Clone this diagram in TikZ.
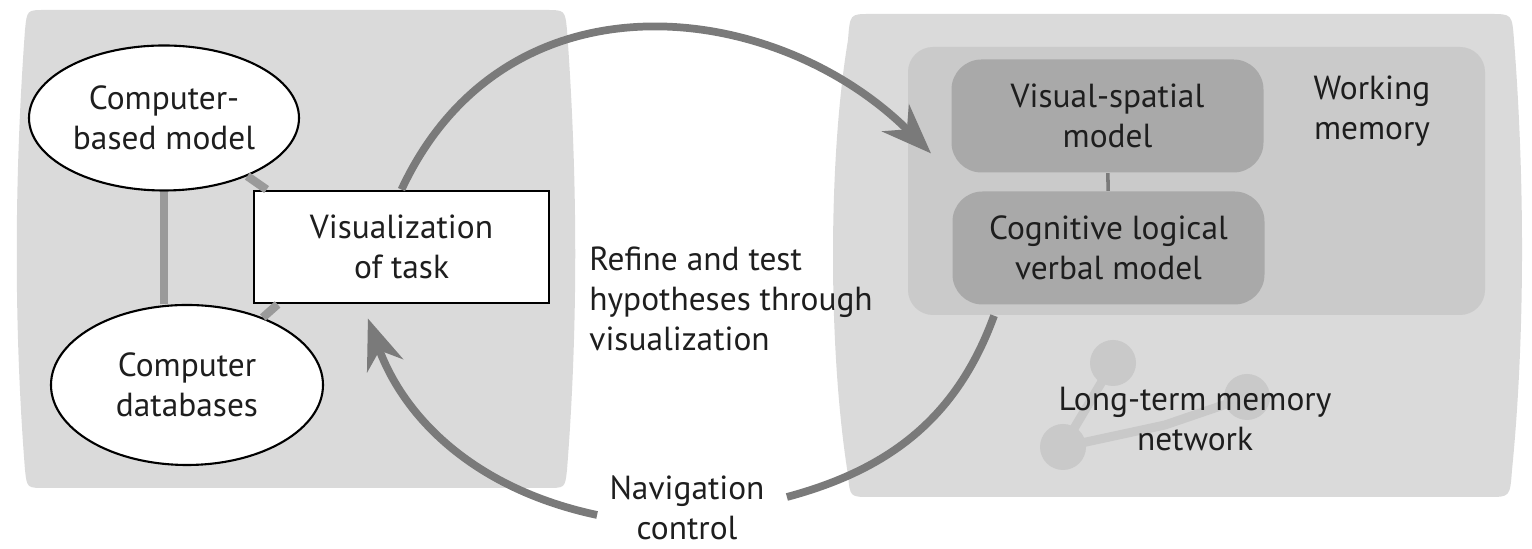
\documentclass[tikz,border=0pt]{standalone}
\usepackage{fontspec}
\setmainfont{PT Sans}
\usetikzlibrary{arrows.meta,calc,shapes.geometric}

\definecolor{panelgray}{HTML}{DADADA}
\definecolor{wmgray}{HTML}{CACACA}
\definecolor{modelgray}{HTML}{A9A9A9}
\definecolor{arcgray}{HTML}{7A7A7A}
\definecolor{linkgray}{HTML}{9A9A9A}
\definecolor{blobgray}{HTML}{C9C9C9}
\definecolor{textgray}{HTML}{1E1E1E}

\begin{document}
\begin{tikzpicture}[
  txt/.style={font=\fontsize{9.5}{11.4}\selectfont, text=textgray, align=center},
  oval/.style={txt, ellipse, draw=black, line width=0.6pt, fill=white, inner sep=0pt},
  model/.style={txt, rectangle, rounded corners=3mm, fill=modelgray,
    minimum width=3.12cm, minimum height=1.13cm},
  link/.style={draw=linkgray, line width=2.4pt},
  cycleline/.style={draw=arcgray, line width=2.2pt},
  arrowtip/.style={-{Stealth[length=5mm, width=3.8mm, inset=1.6mm]}}
]
  \useasboundingbox (0,0) rectangle (15.32,5.49);

  % Left panel
  \fill[panelgray] (0.45,5.39) -- (5.45,5.39) .. controls (5.65,5.39) .. (5.67,5.19)
    .. controls (5.78,3.69) and (5.78,2.19) .. (5.67,0.79)
    .. controls (5.65,0.61) .. (5.47,0.61) -- (0.45,0.61)
    .. controls (0.27,0.61) .. (0.25,0.79)
    .. controls (0.14,2.19) and (0.14,3.69) .. (0.25,5.19)
    .. controls (0.27,5.39) .. (0.45,5.39) -- cycle;

  % Right panel
  \fill[panelgray] (8.70,5.35) -- (14.90,5.35) .. controls (15.12,5.35) .. (15.14,5.09)
    .. controls (15.25,3.69) and (15.25,2.09) .. (15.12,0.79)
    .. controls (15.10,0.52) .. (14.88,0.52) -- (8.70,0.52)
    .. controls (8.50,0.52) .. (8.48,0.74)
    .. controls (8.28,1.99) and (8.28,3.89) .. (8.48,5.09)
    .. controls (8.50,5.35) .. (8.70,5.35) -- cycle;

  % Working memory
  \node[fill=wmgray, rounded corners=2.5mm, minimum width=5.77cm, minimum height=2.68cm]
    (wm) at (11.965,3.68) {};
  \node[model] (vs) at (11.075,4.33) {Visual-spatial\\model};
  \node[model] (cog) at (11.085,3.01) {Cognitive logical\\verbal model};
  \draw[arcgray, line width=1pt] (vs) -- (cog);
  \node[txt] (wmlabel) at (13.72,4.38) {Working\\memory};

  % Long-term memory network
  \draw[blobgray, line width=0.9mm] (11.13,1.86) -- (10.63,1.02) -- (11.65,1.24) -- (12.47,1.52);
  \fill[blobgray] (11.13,1.86) circle (0.23) (10.63,1.02) circle (0.23) (12.47,1.52) circle (0.23);
  \node[txt] (ltm) at (11.95,1.30) {Long-term memory\\network};

  % Computer side
  \node[oval, minimum width=2.7cm, minimum height=1.45cm] (cbm) at (1.64,4.31) {Computer-\\based model};
  \node[oval, minimum width=2.72cm, minimum height=1.6cm] (cdb) at (1.87,1.64) {Computer\\databases};
  \node[txt, draw=black, line width=0.8pt, fill=white, minimum width=2.95cm, minimum height=1.12cm]
    (viz) at (4.015,3.02) {Visualization\\of task};

  \draw[link] (cbm.south) -- (cbm.south |- cdb.north);
  \draw[link] (cbm) -- ([xshift=1.4mm]viz.north west);
  \draw[link] (cdb) -- ([xshift=2.5mm]viz.south west);

  % Labels between the panels
  \node[txt, align=left, anchor=west] (refine) at (5.77,2.50)
    {Refine and test\\hypotheses through\\visualization};
  \node[txt] (nav) at (6.87,0.41) {Navigation\\control};

  % Loop
  \draw[cycleline, arrowtip, shorten >=2.8mm] (viz.north) to[out=65, in=135, looseness=1.15] (vs.south west);
  \draw[cycleline] ($(wm.south west)!0.15!(wm.south east)$) to[out=-110, in=15]
    ([xshift=1mm, yshift=1.1mm]nav.east);
  \draw[cycleline, arrowtip, shorten >=1.5mm] ([yshift=-0.7mm]nav.west) to[out=168, in=-70]
    ($(viz.south west)!0.37!(viz.south east)$);
\end{tikzpicture}
\end{document}
